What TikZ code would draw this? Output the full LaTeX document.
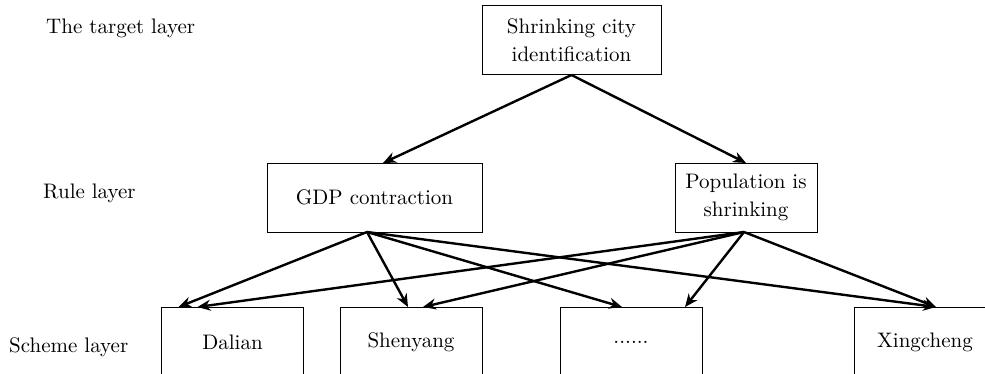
\documentclass[tikz,border=0pt]{standalone}
\usepackage{tikz}
\usetikzlibrary{arrows.meta}
\tikzstyle{crit} = [rectangle, draw, fill=white, line width=0.5pt, minimum width=71pt, minimum height=35pt, inner sep=2pt, outer sep=0pt, align=center]
\tikzstyle{lay} = [anchor=west, inner sep=0pt]

\begin{document}
\begin{tikzpicture}[->,>={Stealth[length=6.5pt,width=5.5pt]},line width=1.2pt,x=0.5pt,y=-0.5pt,font=\fontsize{10.5}{14}\selectfont]
  \clip (0,0) rectangle (985,374);
  \node[lay] (L_T) at (45,28) {The target layer};
  \node[lay] (L_R) at (42,193) {Rule layer};
  \node[lay] (L_S) at (8,347) {Scheme layer};

  \node[crit, minimum width=89.5pt, minimum height=34.5pt] (T) at (571.5,40.5) {Shrinking city\\identification};
  \node[crit, minimum width=107.5pt, minimum height=34.5pt] (G) at (374.5,197.5) {GDP contraction};
  \node[crit, minimum height=34.5pt] (P) at (746,197.5) {Population is\\shrinking};

  \node[crit] (D) at (232.5,342) {Dalian};
  \node[crit] (S) at (411,342) {Shenyang};
  \node[crit] (E) at (631,342) {......};
  \node[crit] (X) at (925,342) {Xingcheng};

  \path (T.south) edge ([xshift=4.25pt]G.north);
  \path (T.south) edge (P.north);
  \path ([xshift=-3.75pt]G.south) edge ([xshift=-27pt]D.north);
  \path ([xshift=-3.75pt]G.south) edge ([xshift=-1.5pt]S.north);
  \path ([xshift=-3.75pt]G.south) edge ([xshift=-4.5pt]E.north);
  \path ([xshift=-3.75pt]G.south) edge ([xshift=5.5pt]X.north);
  \path ([xshift=-1pt]P.south) edge ([xshift=-17.5pt]D.north);
  \path ([xshift=-1pt]P.south) edge ([xshift=6pt]S.north);
  \path ([xshift=-1pt]P.south) edge ([xshift=27pt]E.north);
  \path ([xshift=-1pt]P.south) edge ([xshift=5.5pt]X.north);
\end{tikzpicture}
\end{document}
